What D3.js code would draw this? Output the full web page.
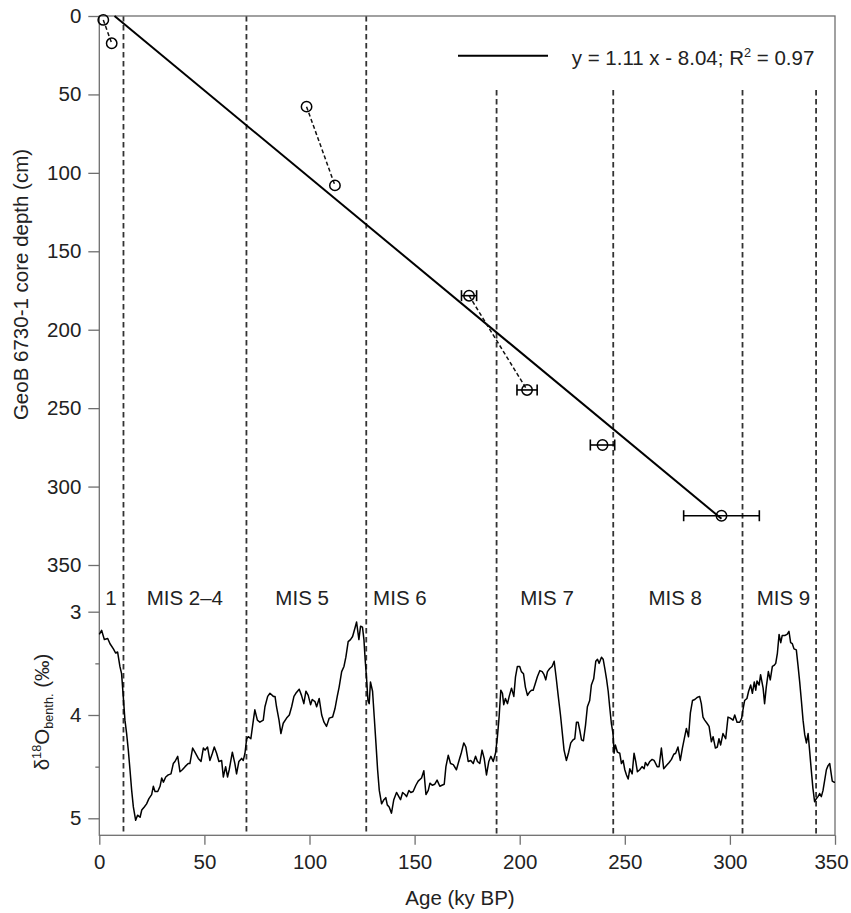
<!DOCTYPE html>
<html>
<head>
<meta charset="utf-8">
<script src="https://cdn.jsdelivr.net/npm/d3@7"></script>
<style>
  body { margin: 0; background: #fff; }
  svg text { font-family: "Liberation Sans", Arial, sans-serif; fill: #222; }
</style>
</head>
<body>
<svg id="chart" width="851" height="913"></svg>
<script>
// ---- Axis ticks -----------------------------------------------------------
const ageTicks = [0, 50, 100, 150, 200, 250, 300, 350];
const depthTicks = [0, 50, 100, 150, 200, 250, 300, 350];
const isoMajorTicks = [3, 4, 5];
const isoMinorTicks = [3.5, 4.5];

// ---- Age-model tie points (age in ky BP, core depth in cm) ---------------
const tieAge   = [1.9, 5.9, 98.6, 112.1, 175.9, 203.5, 239.4, 296.0];
const tieDepth = [2.5, 17.4, 57.8, 108.0, 178.3, 238.4, 273.5, 318.6];
const tieAgeErr = [0, 0, 0, 0, 3.6, 4.8, 5.8, 18.0];
// pairs of tie points joined by a dashed line
const tiePairs = [[0, 1], [2, 3], [4, 5]];

// ---- Linear fit of depth on age ------------------------------------------
const fitSlope = 1.11;
const fitIntercept = -8.04;
const fitR2 = 0.97;
const fitAgeEnd = 296.0;

// ---- Marine isotope stage boundaries and labels --------------------------
const misBoundaries = [11.5, 70, 127, 189, 244.5, 306, 341];
const misLabels = ["1", "MIS 2\u20134", "MIS 5", "MIS 6", "MIS 7", "MIS 8", "MIS 9"];
const misLabelAge = [5.5, 40.7, 96.5, 143, 213, 274, 325.5];

// ---- Benthic d18O record --------------------------------------------------
const isoAge = [
  0, 1.1, 2.4, 4.0, 5.1, 6.7, 7.8, 8.7, 9.8, 10.6, 11.4, 12.2, 13.0, 13.8, 14.6, 15.4, 16.2, 17.3, 18.2, 19.4,
  20.2, 21.4, 22.5, 23.6, 24.9, 25.7, 26.5, 27.8, 28.9, 29.7, 30.5, 31.6, 32.8, 34.1, 35.2, 36.0, 37.3, 38.4, 39.5, 40.8,
  42.3, 43.1, 44.4, 45.5, 47.1, 48.4, 49.5, 50.3, 51.5, 52.6, 53.8, 54.7, 55.8, 56.9, 58.2, 59.0, 60.1, 61.0, 61.8, 63.3,
  64.5, 65.3, 66.4, 67.7, 68.5, 69.3, 70.1, 70.9, 72.1, 73.3, 74.0, 75.2, 76.4, 78.0, 78.8, 80.1, 81.2, 82.8, 83.6, 84.3,
  85.5, 86.4, 87.5, 89.1, 90.4, 91.5, 92.6, 93.5, 95.1, 96.2, 97.3, 98.3, 99.4, 100.5, 101.3, 102.6, 103.4, 104.6, 105.8, 106.9,
  108.1, 109.4, 111.0, 112.1, 113.2, 114.1, 115.3, 116.4, 117.3, 118.4, 119.5, 120.5, 121.6, 122.4, 123.5, 124.3, 125.2, 125.9, 126.5, 127.1,
  127.8, 128.4, 129.0, 130.0, 130.8, 131.6, 132.4, 133.2, 134.3, 135.4, 136.3, 137.0, 137.9, 139.0, 140.1, 141.4, 142.5, 143.3, 144.3, 145.4,
  146.2, 147.3, 148.2, 149.3, 150.6, 151.7, 153.3, 154.4, 155.4, 156.5, 157.3, 158.4, 159.6, 160.7, 162.0, 163.0, 164.1, 164.9, 166.0, 167.1,
  168.4, 169.9, 171.0, 172.3, 173.4, 174.4, 175.5, 176.7, 177.9, 179.0, 179.9, 181.0, 182.1, 183.1, 184.2, 185.3, 186.3, 187.4, 188.5, 189.4,
  190.2, 191.0, 191.8, 192.4, 193.2, 194.2, 195.0, 196.1, 197.2, 198.0, 198.9, 200.0, 200.8, 201.8, 202.7, 203.7, 204.6, 205.6, 206.4, 207.2,
  208.4, 209.6, 210.7, 211.6, 212.4, 213.2, 214.3, 215.4, 216.4, 217.3, 218.3, 219.4, 220.3, 221.1, 222.2, 223.3, 224.3, 225.4, 226.2, 227.0,
  227.8, 228.6, 229.4, 230.3, 231.3, 232.2, 233.3, 234.1, 235.2, 236.2, 237.0, 237.8, 238.9, 239.7, 240.5, 241.3, 242.1, 242.8, 243.6, 244.4,
  244.9, 245.5, 246.5, 247.6, 248.4, 249.2, 250.0, 250.8, 251.6, 252.4, 253.5, 254.4, 255.2, 256.0, 257.1, 258.2, 259.2, 259.8, 260.8, 261.9,
  263.0, 263.9, 264.2, 265.4, 266.3, 267.4, 268.5, 269.8, 271.1, 272.2, 273.3, 274.2, 275.3, 276.4, 277.4, 278.5, 279.3, 280.3, 281.2, 282.2,
  283.3, 284.4, 285.6, 286.4, 287.2, 288.0, 289.1, 290.1, 291.2, 292.0, 293.1, 294.0, 294.8, 295.6, 296.7, 298.0, 299.1, 300.2, 301.5, 302.3,
  303.4, 304.7, 305.6, 306.2, 307.0, 308.1, 308.9, 309.9, 310.7, 311.6, 312.3, 312.9, 313.9, 314.6, 315.8, 316.5, 317.3, 318.3, 319.2, 320.2,
  321.0, 321.8, 322.6, 323.4, 324.2, 324.9, 326.1, 327.2, 328.1, 328.9, 329.7, 330.5, 331.6, 332.4, 333.2, 334.0, 334.8, 335.6, 336.4, 337.2,
  337.9, 338.7, 339.5, 340.3, 341.1, 341.9, 342.7, 343.5, 344.3, 345.1, 345.9, 346.7, 347.5, 348.2, 348.7, 349.5, 350.0
];
const isoValue = [
  3.22, 3.18, 3.27, 3.26, 3.31, 3.36, 3.40, 3.39, 3.53, 3.60, 3.82, 4.05, 4.18, 4.34, 4.53, 4.73, 4.89, 5.02, 4.97, 4.99,
  4.92, 4.89, 4.86, 4.81, 4.77, 4.69, 4.74, 4.74, 4.69, 4.61, 4.65, 4.60, 4.58, 4.57, 4.47, 4.45, 4.40, 4.55, 4.53, 4.50,
  4.47, 4.47, 4.32, 4.36, 4.42, 4.45, 4.32, 4.34, 4.31, 4.44, 4.37, 4.31, 4.37, 4.45, 4.44, 4.60, 4.50, 4.60, 4.53, 4.36,
  4.47, 4.57, 4.45, 4.42, 4.44, 4.37, 4.23, 4.21, 4.23, 4.05, 3.95, 4.05, 4.07, 4.05, 3.92, 3.82, 3.79, 3.82, 3.82, 3.92,
  4.05, 4.18, 4.08, 4.03, 4.00, 3.92, 3.82, 3.79, 3.75, 3.81, 3.89, 3.77, 3.81, 3.90, 3.85, 3.87, 3.92, 3.84, 4.00, 4.07,
  4.11, 4.03, 4.02, 3.94, 3.82, 3.73, 3.58, 3.53, 3.44, 3.29, 3.27, 3.24, 3.16, 3.10, 3.27, 3.14, 3.15, 3.27, 3.47, 3.63,
  3.86, 3.89, 3.68, 3.77, 4.02, 4.27, 4.53, 4.73, 4.86, 4.82, 4.80, 4.87, 4.89, 4.95, 4.82, 4.75, 4.79, 4.82, 4.75, 4.77,
  4.79, 4.73, 4.75, 4.74, 4.68, 4.64, 4.61, 4.54, 4.77, 4.73, 4.66, 4.68, 4.67, 4.63, 4.69, 4.68, 4.67, 4.50, 4.39, 4.47,
  4.48, 4.53, 4.45, 4.36, 4.27, 4.31, 4.45, 4.44, 4.47, 4.40, 4.45, 4.47, 4.34, 4.42, 4.58, 4.45, 4.40, 4.45, 4.37, 4.21,
  4.02, 3.76, 3.79, 3.90, 3.84, 3.89, 3.82, 3.74, 3.82, 3.63, 3.53, 3.53, 3.58, 3.60, 3.73, 3.81, 3.78, 3.76, 3.76, 3.71,
  3.63, 3.57, 3.58, 3.61, 3.66, 3.58, 3.55, 3.53, 3.48, 3.63, 3.81, 4.00, 4.18, 4.34, 4.44, 4.36, 4.27, 4.24, 4.23, 4.07,
  4.07, 4.15, 4.24, 4.25, 4.10, 3.92, 3.86, 3.71, 3.65, 3.48, 3.46, 3.50, 3.44, 3.46, 3.55, 3.65, 3.77, 3.92, 4.08, 4.18,
  4.37, 4.29, 4.36, 4.37, 4.47, 4.44, 4.53, 4.58, 4.62, 4.52, 4.57, 4.37, 4.45, 4.55, 4.53, 4.50, 4.52, 4.46, 4.49, 4.45,
  4.43, 4.44, 4.45, 4.50, 4.50, 4.32, 4.52, 4.49, 4.46, 4.43, 4.38, 4.37, 4.31, 4.44, 4.32, 4.21, 4.13, 4.21, 3.98, 3.86,
  3.85, 3.83, 3.82, 3.89, 4.02, 4.05, 4.08, 4.11, 4.26, 4.21, 4.32, 4.31, 4.23, 4.29, 4.18, 4.23, 4.02, 4.03, 4.05, 4.00,
  4.07, 4.07, 4.03, 3.95, 3.86, 3.84, 3.77, 3.71, 3.79, 3.68, 3.76, 3.67, 3.71, 3.61, 3.74, 3.89, 3.73, 3.58, 3.66, 3.53,
  3.52, 3.50, 3.40, 3.22, 3.30, 3.23, 3.23, 3.22, 3.19, 3.30, 3.31, 3.36, 3.37, 3.52, 3.68, 3.86, 4.05, 4.19, 4.27, 4.18,
  4.34, 4.53, 4.71, 4.84, 4.81, 4.79, 4.76, 4.79, 4.73, 4.63, 4.53, 4.49, 4.47, 4.57, 4.64, 4.65, 4.65
];

// ---- Layout ---------------------------------------------------------------
const frame = { left: 99.3, right: 835, top: 16, bottom: 835.3 };
const FONT = 20.5;
const AXIS_COLOR = "#6f6f6f";

const svg = d3.select("#chart");

const x = d3.scaleLinear().domain([0, 350]).range([frame.left, frame.right]);
const yDepth = d3.scaleLinear().domain([0, 350]).range([frame.top, 565]);
const yIso = d3.scaleLinear().domain([3, 5]).range([611.7, 818.3]);

// legend geometry (used to keep stage lines clear of the legend)
const legend = { x1: 458, x2: 548, y: 55.7, textX: 571.7, bottom: 90 };

// ---- Stage boundaries (dashed verticals) ---------------------------------
svg.append("g")
  .selectAll("line")
  .data(misBoundaries)
  .join("line")
  .attr("x1", d => x(d)).attr("x2", d => x(d))
  .attr("y1", d => x(d) > legend.x1 ? legend.bottom : frame.top)
  .attr("y2", frame.bottom)
  .attr("stroke", "#333")
  .attr("stroke-width", 1.8)
  .attr("stroke-dasharray", "5.5,3.5");

// ---- Stage labels ---------------------------------------------------------
svg.append("g")
  .selectAll("text")
  .data(misLabels)
  .join("text")
  .attr("x", (d, i) => x(misLabelAge[i]))
  .attr("y", 605)
  .attr("text-anchor", "middle")
  .attr("font-size", FONT)
  .text(d => d);

// ---- Frame ----------------------------------------------------------------
svg.append("rect")
  .attr("x", frame.left).attr("y", frame.top)
  .attr("width", frame.right - frame.left)
  .attr("height", frame.bottom - frame.top)
  .attr("fill", "none")
  .attr("stroke", AXIS_COLOR)
  .attr("stroke-width", 1.3);

// ---- Axes -----------------------------------------------------------------
function styleAxis(g) {
  g.select(".domain").remove();
  g.selectAll(".tick line").attr("stroke", AXIS_COLOR).attr("stroke-width", 1.3);
  g.selectAll(".tick text").attr("font-size", FONT).attr("fill", "#222")
    .attr("font-family", "Liberation Sans, Arial, sans-serif");
}

svg.append("g")
  .attr("transform", `translate(${frame.left},0)`)
  .call(d3.axisLeft(yDepth).tickValues(depthTicks).tickSize(11).tickPadding(7))
  .call(styleAxis);

svg.append("g")
  .attr("transform", `translate(${frame.left},0)`)
  .call(d3.axisLeft(yIso).tickValues(isoMajorTicks).tickSize(11).tickPadding(7).tickFormat(d3.format("d")))
  .call(styleAxis);

svg.append("g")
  .attr("transform", `translate(${frame.left},0)`)
  .call(d3.axisLeft(yIso).tickValues(isoMinorTicks).tickSize(4).tickFormat(""))
  .call(styleAxis);

const xAxisG = svg.append("g")
  .attr("transform", `translate(0,${frame.bottom})`)
  .call(d3.axisBottom(x).tickValues(ageTicks).tickSize(9.5).tickPadding(10))
  .call(styleAxis);
// keep the last age label inside the page edge
xAxisG.selectAll(".tick text")
  .filter(d => d === ageTicks[ageTicks.length - 1])
  .attr("dx", -4);

// ---- Axis titles ----------------------------------------------------------
svg.append("text")
  .attr("x", 460).attr("y", 905)
  .attr("text-anchor", "middle")
  .attr("font-size", FONT)
  .text("Age (ky BP)");

svg.append("text")
  .attr("transform", "translate(28,284.5) rotate(-90)")
  .attr("text-anchor", "middle")
  .attr("font-size", FONT)
  .text("GeoB 6730-1 core depth (cm)");

const isoTitle = svg.append("text")
  .attr("transform", "translate(49,712) rotate(-90)")
  .attr("text-anchor", "middle")
  .attr("font-size", FONT);
isoTitle.append("tspan").text("\u03B4");
isoTitle.append("tspan").attr("font-size", FONT * 0.62).attr("dy", -8).text("18");
isoTitle.append("tspan").attr("dy", 8).text("O");
isoTitle.append("tspan").attr("font-size", FONT * 0.62).attr("dy", 4).text("benth.");
isoTitle.append("tspan").attr("dy", -4).text(" (\u2030)");

// ---- Linear fit -----------------------------------------------------------
const fitAgeStart = -fitIntercept / fitSlope;
const fitLine = [fitAgeStart, fitAgeEnd].map(a => [a, fitSlope * a + fitIntercept]);
svg.append("path")
  .datum(fitLine)
  .attr("fill", "none")
  .attr("stroke", "#000")
  .attr("stroke-width", 2)
  .attr("d", d3.line().x(d => x(d[0])).y(d => yDepth(d[1])));

// ---- Tie points -----------------------------------------------------------
const ties = tieAge.map((a, i) => ({ age: a, depth: tieDepth[i], err: tieAgeErr[i] }));

svg.append("g")
  .selectAll("line")
  .data(tiePairs)
  .join("line")
  .attr("x1", d => x(ties[d[0]].age)).attr("y1", d => yDepth(ties[d[0]].depth))
  .attr("x2", d => x(ties[d[1]].age)).attr("y2", d => yDepth(ties[d[1]].depth))
  .attr("stroke", "#111")
  .attr("stroke-width", 1.5)
  .attr("stroke-dasharray", "4,2.5");

const errG = svg.append("g").attr("stroke", "#000").attr("stroke-width", 1.6);
ties.filter(d => d.err > 0).forEach(d => {
  const cy = yDepth(d.depth);
  const xl = x(d.age - d.err), xr = x(d.age + d.err);
  errG.append("line").attr("x1", xl).attr("x2", xr).attr("y1", cy).attr("y2", cy);
  errG.append("line").attr("x1", xl).attr("x2", xl).attr("y1", cy - 5.5).attr("y2", cy + 5.5);
  errG.append("line").attr("x1", xr).attr("x2", xr).attr("y1", cy - 5.5).attr("y2", cy + 5.5);
});

svg.append("g")
  .selectAll("circle")
  .data(ties)
  .join("circle")
  .attr("cx", d => x(d.age))
  .attr("cy", d => yDepth(d.depth))
  .attr("r", 5.2)
  .attr("fill", "none")
  .attr("stroke", "#000")
  .attr("stroke-width", 1.5);

// ---- Legend ---------------------------------------------------------------
svg.append("line")
  .attr("x1", legend.x1).attr("x2", legend.x2)
  .attr("y1", legend.y).attr("y2", legend.y)
  .attr("stroke", "#000").attr("stroke-width", 2);

const legText = svg.append("text")
  .attr("x", legend.textX).attr("y", 65)
  .attr("font-size", FONT);
legText.append("tspan").text(`y = ${fitSlope.toFixed(2)} x - ${Math.abs(fitIntercept).toFixed(2)}; R`);
legText.append("tspan").attr("font-size", FONT * 0.62).attr("dy", -8).text("2");
legText.append("tspan").attr("dy", 8).text(` = ${fitR2.toFixed(2)}`);

// ---- Benthic d18O curve ---------------------------------------------------
const isoSeries = isoAge.map((a, i) => [a, isoValue[i]]);
svg.append("path")
  .datum(isoSeries)
  .attr("fill", "none")
  .attr("stroke", "#000")
  .attr("stroke-width", 1.5)
  .attr("stroke-linejoin", "round")
  .attr("d", d3.line().x(d => x(d[0])).y(d => yIso(d[1])));
</script>
</body>
</html>
